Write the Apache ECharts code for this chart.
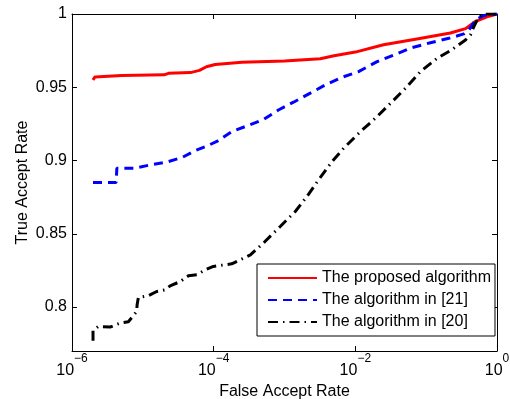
<!DOCTYPE html>
<html>
<head>
<meta charset="utf-8">
<script src="https://cdn.jsdelivr.net/npm/echarts@6/dist/echarts.min.js"></script>
<style>html,body{margin:0;padding:0;background:#fff}#c{width:510px;height:399px}</style>
</head>
<body>
<div id="c"></div>
<script>
const seriesNames = ['The proposed algorithm', 'The algorithm in [21]', 'The algorithm in [20]'];
const xTicks = [1e-6, 1e-4, 1e-2, 1];
const yTicks = [0.8, 0.85, 0.9, 0.95, 1];
const proposed = [[1.98e-6,0.955],[2.1e-6,0.957],[5e-6,0.958],[2.0e-5,0.9585],[2.3e-5,0.9595],[4.7e-5,0.960],[6.3e-5,0.9615],[7.9e-5,0.964],[1.05e-4,0.9655],[2.5e-4,0.967],[1e-3,0.968],[3.2e-3,0.9695],[5e-3,0.9715],[1e-2,0.974],[2.5e-2,0.979],[7.4e-2,0.983],[0.22,0.987],[0.36,0.990],[0.5,0.995],[0.72,0.998],[1,1.0]];
const alg21 = [[1.98e-6,0.885],[4.2e-6,0.885],[4.3e-6,0.8948],[7.76e-6,0.8948],[1.27e-5,0.897],[2.18e-5,0.899],[3.56e-5,0.902],[5.5e-5,0.9068],[8.1e-5,0.910],[1.11e-4,0.913],[1.81e-4,0.9197],[2.94e-4,0.9236],[5.06e-4,0.928],[8.2e-4,0.9345],[1.34e-3,0.9398],[2.31e-3,0.946],[3.77e-3,0.9516],[6.5e-3,0.9568],[1.11e-2,0.9607],[2.03e-2,0.9675],[3.48e-2,0.972],[6.3e-2,0.977],[0.115,0.9804],[0.209,0.9834],[0.339,0.9864],[0.40,0.989],[0.50,0.996],[0.65,0.999],[1,1.0]];
const alg20 = [[1.98e-6,0.777],[1.98e-6,0.784],[2.35e-6,0.7867],[3.44e-6,0.7863],[4.76e-6,0.789],[6.25e-6,0.790],[8.2e-6,0.797],[8.3e-6,0.8015],[8.65e-6,0.8065],[1.2e-5,0.8077],[1.57e-5,0.8106],[2.06e-5,0.8117],[2.43e-5,0.8145],[3.37e-5,0.8174],[4.4e-5,0.8213],[5.8e-5,0.822],[7.6e-5,0.8254],[9.9e-5,0.8277],[1.8e-4,0.8295],[3.3e-4,0.8356],[5.3e-4,0.8447],[8.7e-4,0.855],[1.42e-3,0.8652],[2.07e-3,0.8754],[3.03e-3,0.8868],[4.69e-3,0.8993],[6.84e-3,0.9084],[1.18e-2,0.9197],[1.92e-2,0.9289],[3.13e-2,0.939],[5.09e-2,0.9493],[8.3e-2,0.9607],[0.143,0.9698],[0.22,0.975],[0.359,0.9823],[0.422,0.9857],[0.47,0.9913],[0.552,0.998],[0.65,1.0],[1,1.0]];

const FONT = "'Liberation Sans', Arial, sans-serif";
const chart = echarts.init(document.getElementById('c'), null, {renderer: 'canvas'});
const axisCommon = {
  axisLine: {show: true, lineStyle: {color: '#000', width: 1}},
  splitLine: {show: false},
  minorTick: {show: false}
};
chart.setOption({
  animation: false,
  backgroundColor: '#fff',
  textStyle: {fontFamily: FONT},
  grid: {left: 72, right: 13, top: 14, bottom: 48, containLabel: false, outerBoundsMode: 'none'},
  legend: {
    orient: 'vertical', left: 257, top: 264,
    data: seriesNames,
    itemWidth: 49, itemHeight: 14, itemGap: 6, itemTextGap: 5,
    padding: [6, 4, 6, 10],
    borderColor: '#000', borderWidth: 1, backgroundColor: '#fff',
    itemStyle: {opacity: 0, borderWidth: 0},
    textStyle: {fontFamily: FONT, fontSize: 16, color: '#000'}
  },
  xAxis: [
    Object.assign({}, axisCommon, {
      type: 'log', logBase: 10, min: 1e-6, max: 1, position: 'bottom',
      name: 'False Accept Rate', nameLocation: 'middle', nameGap: 28,
      nameTextStyle: {fontFamily: FONT, fontSize: 16, color: '#000'},
      axisTick: {show: true, inside: true, length: 5, lineStyle: {color: '#000'}, customValues: xTicks},
      axisLabel: {
        show: true, margin: 2, customValues: xTicks, color: '#000',
        formatter: function (v) {
          const e = Math.round(Math.log10(v));
          return '{b|10}{s|' + (e < 0 ? '\u2212' + (-e) : e) + '}';
        },
        rich: {
          b: {fontFamily: FONT, fontSize: 16, color: '#000', verticalAlign: 'bottom'},
          s: {fontFamily: FONT, fontSize: 12, color: '#000', verticalAlign: 'bottom', padding: [0, 0, 14, 0]}
        }
      }
    }),
    Object.assign({}, axisCommon, {
      type: 'log', logBase: 10, min: 1e-6, max: 1, position: 'top',
      axisTick: {show: true, inside: true, length: 5, lineStyle: {color: '#000'}, customValues: xTicks},
      axisLabel: {show: false}
    })
  ],
  yAxis: [
    Object.assign({}, axisCommon, {
      type: 'value', min: 0.77, max: 1, position: 'left',
      name: 'True Accept Rate', nameLocation: 'middle', nameGap: 41, nameMoveOverlap: false,
      nameTextStyle: {fontFamily: FONT, fontSize: 16, color: '#000'},
      axisTick: {show: true, inside: true, length: 5, lineStyle: {color: '#000'}, customValues: yTicks},
      axisLabel: {show: true, margin: 5, customValues: yTicks, color: '#000', fontFamily: FONT, fontSize: 16,
        formatter: function (v) { return String(Math.round(v * 100) / 100); }}
    }),
    Object.assign({}, axisCommon, {
      type: 'value', min: 0.77, max: 1, position: 'right',
      axisTick: {show: true, inside: true, length: 5, lineStyle: {color: '#000'}, customValues: yTicks},
      axisLabel: {show: false}
    })
  ],
  series: [
    {name: seriesNames[0], type: 'line', data: proposed, symbol: 'none', color: '#ff0000',
     lineStyle: {color: '#ff0000', width: 3, type: 'solid'}},
    {name: seriesNames[1], type: 'line', data: alg21, symbol: 'none', color: '#0000ff',
     lineStyle: {color: '#0000ff', width: 3, type: [9, 6]}},
    {name: seriesNames[2], type: 'line', data: alg20, symbol: 'none', color: '#000000',
     lineStyle: {color: '#000000', width: 3, type: [10, 5, 1.5, 5]}}
  ]
});
</script>
</body>
</html>
